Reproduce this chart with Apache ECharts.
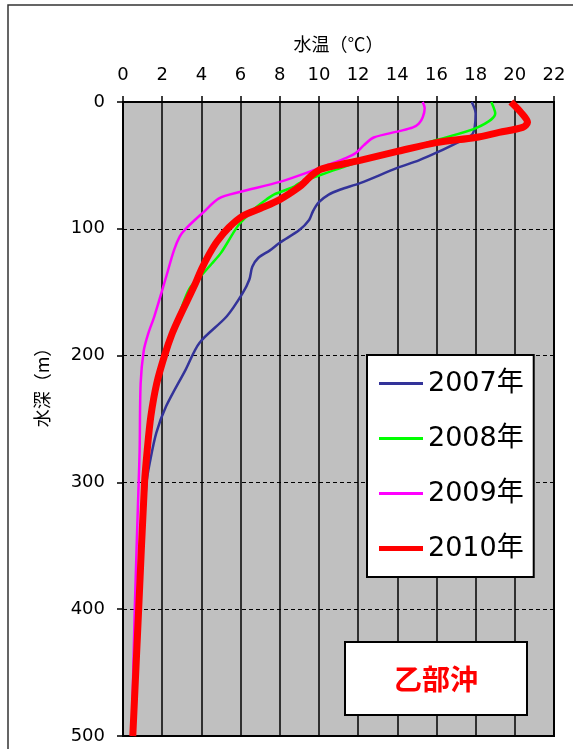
<!DOCTYPE html>
<html>
<head>
<meta charset="utf-8">
<title>乙部沖 水温</title>
<script src="https://cdn.jsdelivr.net/npm/echarts@6.0.0/dist/echarts.min.js"></script>
<style>
html, body { margin: 0; padding: 0; background: #fff; }
#main { width: 573px; height: 749px; }
</style>
</head>
<body>
<div id="main"></div>
<script>
// 横轴刻度（水温）与纵轴刻度（水深）
var tempTicks = [0, 2, 4, 6, 8, 10, 12, 14, 16, 18, 20, 22];
var depthTicks = [0, 100, 200, 300, 400, 500];
var years = ['2007年', '2008年', '2009年', '2010年'];

// 2007年
var depth2007 = [0, 9, 20, 26, 31, 40, 46, 52, 64, 69, 73, 79, 86, 93, 101, 111, 117, 123, 130, 140, 151, 169, 190, 211, 240, 261, 285, 300, 350, 400, 450, 500];
var temp2007 = [17.8, 18.0, 17.95, 17.8, 17.2, 16.0, 15.1, 14.0, 12.1, 11.1, 10.5, 10.0, 9.7, 9.5, 9.0, 8.0, 7.5, 6.9, 6.6, 6.45, 6.1, 5.3, 3.9, 3.2, 2.2, 1.7, 1.36, 1.2, 1.0, 0.8, 0.65, 0.55];
// 2008年
var depth2008 = [0, 9, 20, 30, 39, 47, 58, 64, 67, 73, 76, 83, 96, 104, 119, 128, 135, 147, 166, 200, 250, 300, 400, 500];
var temp2008 = [18.8, 19.0, 18.1, 16.0, 14.1, 12.1, 10.0, 9.0, 8.7, 7.7, 7.4, 6.8, 5.95, 5.6, 5.0, 4.5, 4.1, 3.4, 2.9, 2.1, 1.45, 1.15, 0.85, 0.55];
// 2009年
var depth2009 = [0, 5, 12, 17, 20, 23, 28, 34, 40, 44, 50, 54, 63, 71, 76, 87, 100, 106, 117, 138, 169, 183, 196, 222, 274, 300, 400, 500];
var temp2009 = [15.3, 15.4, 15.3, 15.1, 14.8, 14.1, 12.8, 12.3, 11.9, 11.4, 10.4, 9.7, 8.0, 5.95, 4.9, 4.1, 3.2, 2.9, 2.6, 2.2, 1.6, 1.28, 1.06, 0.9, 0.85, 0.8, 0.6, 0.45];
// 2010年
var depth2010 = [0, 8, 16, 20, 24, 28, 32, 39, 46, 50, 53, 57, 62, 67, 77, 84, 90, 99, 110, 120, 132, 143, 169, 183, 200, 222, 248, 274, 300, 400, 500];
var temp2010 = [19.8, 20.3, 20.65, 20.4, 19.2, 18.0, 16.0, 14.0, 12.1, 10.9, 10.1, 9.7, 9.35, 9.0, 8.0, 7.0, 6.1, 5.4, 4.8, 4.4, 4.0, 3.7, 2.9, 2.5, 2.12, 1.72, 1.42, 1.24, 1.1, 0.8, 0.5];

var lineColors = ['#333399', '#00ff00', '#ff00ff', '#ff0000'];
var lineWidths = [2.5, 2.5, 2.5, 7];

function pairs(t, d) {
    var out = [];
    for (var i = 0; i < t.length; i++) out.push([t[i], d[i]]);
    return out;
}

var myChart = echarts.init(document.getElementById('main'));
var allData = [pairs(temp2007, depth2007), pairs(temp2008, depth2008), pairs(temp2009, depth2009), pairs(temp2010, depth2010)];

var seriesList = [];
var legendItems = [];
for (var k = 0; k < years.length; k++) {
    seriesList.push({
        name: years[k],
        type: 'line',
        symbol: 'none',
        smooth: 0.3,
        data: allData[k],
        lineStyle: { color: lineColors[k], width: lineWidths[k] },
        itemStyle: { color: lineColors[k] },
        z: 2 + k
    });
    // 图例只画一条线，2010年更粗
    legendItems.push({
        name: years[k],
        icon: k === 3 ? 'path://M0,0h44v5h-44z' : 'path://M0,0h44v3h-44z'
    });
}

var numFont = 'DejaVu Sans';
var jpFont = 'Noto Sans CJK JP';

var option = {
    animation: false,
    backgroundColor: '#fff',
    grid: {
        left: 123, top: 102, width: 431, height: 634,
        show: true,
        backgroundColor: '#c0c0c0',
        borderColor: '#000',
        borderWidth: 2
    },
    legend: {
        data: legendItems,
        orient: 'vertical',
        left: 367, top: 355,
        backgroundColor: '#fff',
        borderColor: '#000',
        borderWidth: 2,
        padding: [15, 10, 15, 12],
        itemWidth: 44, itemHeight: 14, itemGap: 28,
        textStyle: { fontSize: 27, color: '#000', fontFamily: numFont + ', ' + jpFont }
    },
    xAxis: {
        type: 'value',
        position: 'top',
        min: tempTicks[0],
        max: tempTicks[tempTicks.length - 1],
        interval: tempTicks[1] - tempTicks[0],
        name: '水温（℃）',
        nameLocation: 'middle',
        nameGap: 49,
        nameTextStyle: { fontSize: 18, color: '#000', fontFamily: jpFont },
        axisLine: { show: true, onZero: false, lineStyle: { color: '#000', width: 2 } },
        axisTick: { show: true, length: 6, lineStyle: { color: '#000', width: 1.5 } },
        axisLabel: { fontSize: 18, color: '#000', margin: 18, fontFamily: numFont },
        splitLine: { show: true, lineStyle: { color: '#000', width: 1.5 } }
    },
    yAxis: {
        type: 'value',
        inverse: true,
        min: depthTicks[0],
        max: depthTicks[depthTicks.length - 1],
        interval: depthTicks[1] - depthTicks[0],
        axisLine: { show: true, onZero: false, lineStyle: { color: '#000', width: 2 } },
        axisTick: { show: true, length: 6, lineStyle: { color: '#000', width: 1.5 } },
        axisLabel: { fontSize: 18, color: '#000', margin: 18, fontFamily: numFont },
        splitLine: { show: true, lineStyle: { color: '#000', width: 1, type: [4, 3] } }
    },
    graphic: [
        // 外框
        {
            type: 'rect', silent: true, z: 0,
            shape: { x: 8, y: 5, width: 640, height: 820 },
            style: { fill: 'none', stroke: '#333', lineWidth: 1.5 }
        },
        // 纵轴名称
        {
            type: 'text', x: 42, y: 383, rotation: Math.PI / 2, z: 10,
            style: { text: '水深（m）', font: '18px "Noto Sans CJK JP"', fill: '#000', align: 'center', verticalAlign: 'middle' }
        },
        // 地点名
        {
            type: 'rect', z: 100,
            shape: { x: 345, y: 642, width: 182, height: 73 },
            style: { fill: '#fff', stroke: '#000', lineWidth: 2 }
        },
        {
            type: 'text', x: 436, y: 679, z: 101,
            style: { text: '乙部沖', font: 'bold 28px "Noto Sans CJK JP"', fill: '#ff0000', align: 'center', verticalAlign: 'middle' }
        }
    ],
    series: seriesList
};

myChart.setOption(option);
</script>
</body>
</html>
